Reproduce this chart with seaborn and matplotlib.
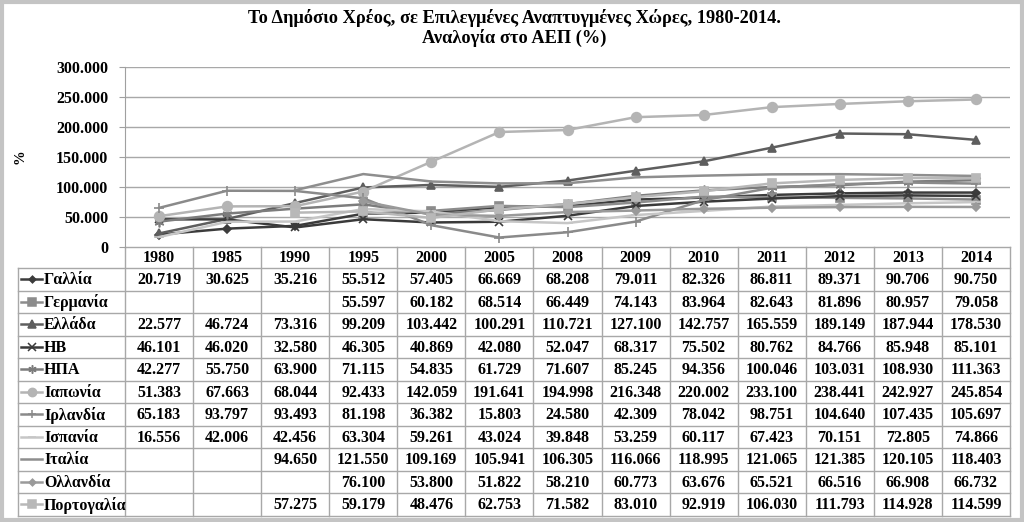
import numpy as np
import pandas as pd
import matplotlib
matplotlib.use("Agg")
import matplotlib.pyplot as plt
import seaborn as sns

# === Δεδομένα ===
years = ["1980", "1985", "1990", "1995", "2000", "2005", "2008", "2009",
         "2010", "2011", "2012", "2013", "2014"]

countries = ["Γαλλία", "Γερμανία", "Ελλάδα", "ΗΒ", "ΗΠΑ", "Ιαπωνία",
             "Ιρλανδία", "Ισπανία", "Ιταλία", "Ολλανδία", "Πορτογαλία"]

gallia = [20.719, 30.625, 35.216, 55.512, 57.405, 66.669, 68.208, 79.011, 82.326, 86.811, 89.371, 90.706, 90.750]
germania = [None, None, None, 55.597, 60.182, 68.514, 66.449, 74.143, 83.964, 82.643, 81.896, 80.957, 79.058]
ellada = [22.577, 46.724, 73.316, 99.209, 103.442, 100.291, 110.721, 127.100, 142.757, 165.559, 189.149, 187.944, 178.530]
hb = [46.101, 46.020, 32.580, 46.305, 40.869, 42.080, 52.047, 68.317, 75.502, 80.762, 84.766, 85.948, 85.101]
hpa = [42.277, 55.750, 63.900, 71.115, 54.835, 61.729, 71.607, 85.245, 94.356, 100.046, 103.031, 108.930, 111.363]
iaponia = [51.383, 67.663, 68.044, 92.433, 142.059, 191.641, 194.998, 216.348, 220.002, 233.100, 238.441, 242.927, 245.854]
irlandia = [65.183, 93.797, 93.493, 81.198, 36.382, 15.803, 24.580, 42.309, 78.042, 98.751, 104.640, 107.435, 105.697]
ispania = [16.556, 42.006, 42.456, 63.304, 59.261, 43.024, 39.848, 53.259, 60.117, 67.423, 70.151, 72.805, 74.866]
italia = [None, None, 94.650, 121.550, 109.169, 105.941, 106.305, 116.066, 118.995, 121.065, 121.385, 120.105, 118.403]
ollandia = [None, None, None, 76.100, 53.800, 51.822, 58.210, 60.773, 63.676, 65.521, 66.516, 66.908, 66.732]
portogalia = [None, None, 57.275, 59.179, 48.476, 62.753, 71.582, 83.010, 92.919, 106.030, 111.793, 114.928, 114.599]

series = [gallia, germania, ellada, hb, hpa, iaponia, irlandia, ispania, italia, ollandia, portogalia]

# στυλ (χρώμα, marker, μέγεθος)
styles = [
    ("#3c3c3c", "D", 4),
    ("#8c8c8c", "s", 6),
    ("#5e5e5e", "^", 6),
    ("#3a3a3a", "x", 6),
    ("#7c7c7c", (6, 2, 0), 7),
    ("#b4b4b4", "o", 7),
    ("#8a8a8a", "+", 7),
    ("#c6c6c6", "_", 7),
    ("#8e8e8e", None, 0),
    ("#9a9a9a", "D", 4),
    ("#b8b8b8", "s", 6),
]

W, H = 1024, 522
fig = plt.figure(figsize=(W / 100, H / 100), dpi=100)
plt.rcParams["font.family"] = ["Liberation Serif", "DejaVu Serif"]
plt.rcParams["font.weight"] = "bold"
fs = 11.5

# layout (pixel)
x0, x1 = 125, 1010
y_top, y_axis = 67, 247
ncol = len(years)
cw = (x1 - x0) / ncol
row_top = 268
rh = 22.5

ax = fig.add_axes([x0 / W, 1 - y_axis / H, (x1 - x0) / W, (y_axis - y_top) / H])

df = pd.DataFrame({"year": years})
for name, vals in zip(countries, series):
    df[name] = pd.Series(vals, dtype="float")
df["idx"] = np.arange(ncol)
long = df.melt(id_vars=["year", "idx"], var_name="country", value_name="value").dropna()

for name, (col, mk, ms) in zip(countries, styles):
    d = long[long["country"] == name]
    sns.lineplot(data=d, x="idx", y="value", ax=ax, color=col, marker=mk,
                 markersize=ms, markeredgecolor=col, markeredgewidth=1.2,
                 linewidth=1.8, legend=False, zorder=3)

ax.set_xlim(-0.5, ncol - 0.5)
ax.set_ylim(0, 300)
ax.set_yticks(range(0, 301, 50))
ax.set_yticklabels(["0"] + [f"{v}.000" for v in range(50, 301, 50)],
                   fontsize=fs, fontweight="bold")
ax.set_xticks([])
ax.set_xlabel("")
ax.set_ylabel("")
ax.tick_params(axis="y", length=4, color="#a0a0a0", pad=8)
for y in range(50, 301, 50):
    ax.axhline(y, color="#a8a8a8", lw=1, zorder=1)
for s in ["top", "right", "bottom"]:
    ax.spines[s].set_visible(False)
ax.spines["left"].set_color("#a0a0a0")
ax.set_facecolor("none")

fig.text(20 / W, 1 - 157 / H, "%", rotation=90, ha="center", va="center",
         fontsize=10.5, fontweight="bold")
fig.text(514 / W, 1 - 28 / H,
         "Το Δημόσιο Χρέος, σε Επιλεγμένες Αναπτυγμένες Χώρες, 1980-2014.\nΑναλογία στο ΑΕΠ (%)",
         ha="center", va="center", fontsize=13.2, fontweight="bold", linespacing=1.1)

# === Πίνακας δεδομένων ===
tab = fig.add_axes([0, 0, 1, 1])
tab.set_xlim(0, W)
tab.set_ylim(H, 0)
tab.axis("off")
tab.set_zorder(-1)
lc = "#a8a8a8"
nrow = len(countries)
row_bot = row_top + nrow * rh
tab.plot([x0, x1], [y_axis, y_axis], color=lc, lw=1)
for i in range(ncol + 1):
    xi = x0 + i * cw
    tab.plot([xi, xi], [y_axis, row_bot], color=lc, lw=1)
for j, yr in enumerate(years):
    tab.text(x0 + (j + 0.5) * cw, (y_axis + row_top) / 2 + 1, yr, ha="center",
             va="center", fontsize=fs, fontweight="bold")
tab.plot([18, 18], [row_top, row_bot], color=lc, lw=1)
for r in range(nrow + 1):
    yy = row_top + r * rh
    tab.plot([18, x1], [yy, yy], color=lc, lw=1)
for r, (name, vals, (col, mk, ms)) in enumerate(zip(countries, series, styles)):
    yc = row_top + (r + 0.5) * rh
    tab.plot([21, 42], [yc, yc], color=col, lw=1.8)
    if mk is not None:
        tab.plot([31.5], [yc], marker=mk, color=col, markersize=ms * 0.85,
                 markeredgecolor=col, markeredgewidth=1.1)
    tab.text(44, yc + 1, name, ha="left", va="center", fontsize=fs,
             fontweight="bold")
    for j, v in enumerate(vals):
        if v is not None:
            tab.text(x0 + (j + 0.5) * cw, yc + 1, f"{v:.3f}", ha="center",
                     va="center", fontsize=fs, fontweight="bold")

# εξωτερικό πλαίσιο
fig.patches.append(plt.Rectangle((0.0015, 0.003), 0.997, 0.994, transform=fig.transFigure,
                                 fill=False, edgecolor="#c4c4c4", lw=3))

fig.savefig("out.png", dpi=100)
